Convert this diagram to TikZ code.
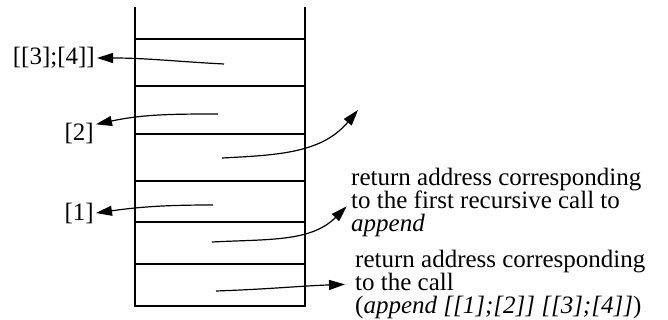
\documentclass[tikz,border=0pt]{standalone}
\usepackage{fontspec}
\setmainfont{Liberation Serif}
\usetikzlibrary{arrows.meta}
\begin{document}
\begin{tikzpicture}[x=1pt,y=-1pt,
  wall/.style={line width=1.4pt},
  ptr/.style={line width=1.2pt,-{Triangle[length=16pt,width=10pt]}},
  lbl/.style={inner sep=2pt,font=\fontsize{25}{23}\selectfont},
  note/.style={inner sep=0pt,align=left,anchor=north west,font=\fontsize{25}{23}\selectfont}]
\useasboundingbox (0,0) rectangle (668,320);
% stack
\draw[wall] (135,7) -- (135,306) -- (305,306) -- (305,7);
\foreach \y in {39,86,134,181,222,264} \draw[wall] (135,\y) -- (305,\y);
% tails
\coordinate (s1) at (224,64);
\coordinate (s2) at (218,114);
\coordinate (s3) at (222,158);
\coordinate (s4) at (213,205);
\coordinate (s5) at (212,242);
\coordinate (s6) at (216,291);
\coordinate (up) at (358,110);
% labels
\node[lbl,anchor=east] (l1) at (97,58) {[[3];[4]]};
\node[lbl,anchor=east] (l2) at (96,134) {[2]};
\node[lbl,anchor=east] (l3) at (96,213) {[1]};
\node[note] (t1) at (351,167.5) {return address corresponding\\to the first recursive call to\\\textit{append}};
\node[note] (t2) at (355,249.5) {return address corresponding\\to the call\\(\textit{append [[1];[2]] [[3];[4]]})};
% pointers
\draw[ptr] (s1) to[out=177,in=0] (l1.east);
\draw[ptr] (s2) to[out=180,in=12] (l2.30);
\draw[ptr] (s3) to[out=3,in=230] (up);
\draw[ptr] (s4) to[out=180,in=8] (l3.east);
\draw[ptr,shorten >=6pt] (s5) to[out=3,in=225] (t1.west);
\draw[ptr,shorten >=10pt] (s6) to[out=2,in=182] (t2.west);
\end{tikzpicture}
\end{document}
